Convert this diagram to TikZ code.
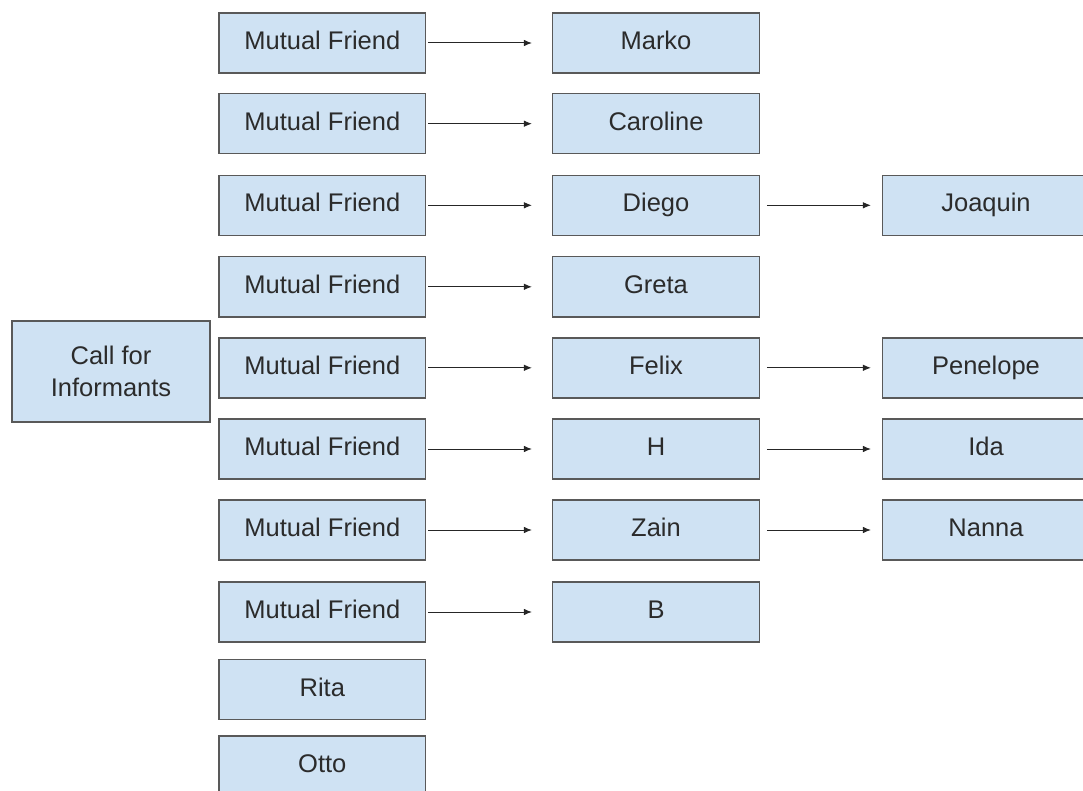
\documentclass[tikz,border=0pt]{standalone}
\usepackage{fontspec}
\setmainfont{Liberation Sans}
\usetikzlibrary{arrows.meta}
\definecolor{boxfill}{HTML}{CFE2F3}
\definecolor{boxline}{HTML}{595959}
\definecolor{txt}{HTML}{2B2B2B}
\tikzset{
  cardbase/.style={draw=boxline, fill=boxfill, line width=1.4pt, minimum width=206.7pt, minimum height=60pt,
    inner sep=0pt, text=txt, font=\fontsize{25.5}{32}\selectfont},
  card/.style={cardbase, text height=18.4pt, text depth=5.4pt},
  bigcard/.style={cardbase, align=center, minimum width=197.7pt, minimum height=101pt},
  link/.style={draw=black!85, line width=1pt, -{Latex[length=8pt,width=6.5pt]}},
  linkA/.style={link, shorten <=2pt, shorten >=20pt},
  linkB/.style={link, shorten <=6.7pt, shorten >=11pt}
}
\begin{document}
\begin{tikzpicture}[x=1pt, y=-1pt]
\useasboundingbox (0,0) rectangle (1083,791);
\begin{scope}
\clip (0,0) rectangle (1083,791);
\node[bigcard] (call) at (111,371.5) {Call for\\Informants};
% column 1
\node[card] (m1) at (322.3,43) {Mutual Friend};
\node[card] (m2) at (322.3,123.7) {Mutual Friend};
\node[card] (m3) at (322.3,205.3) {Mutual Friend};
\node[card] (m4) at (322.3,286.8) {Mutual Friend};
\node[card] (m5) at (322.3,367.8) {Mutual Friend};
\node[card] (m6) at (322.3,449) {Mutual Friend};
\node[card] (m7) at (322.3,530) {Mutual Friend};
\node[card] (m8) at (322.3,612) {Mutual Friend};
\node[card] (rita) at (322.3,689.5) {Rita};
\node[card] (otto) at (322.3,766) {Otto};
% column 2
\node[card] (marko) at (656,43) {Marko};
\node[card] (caroline) at (656,123.7) {Caroline};
\node[card] (diego) at (656,205.3) {Diego};
\node[card] (greta) at (656,286.8) {Greta};
\node[card] (felix) at (656,367.8) {Felix};
\node[card] (h) at (656,449) {H};
\node[card] (zain) at (656,530) {Zain};
\node[card] (b) at (656,612) {B};
% column 3
\node[card] (joaquin) at (986,205.3) {Joaquin};
\node[card] (penelope) at (986,367.8) {Penelope};
\node[card] (ida) at (986,449) {Ida};
\node[card] (nanna) at (986,530) {Nanna};
\end{scope}
% connectors
\draw[linkA] (m1) -- (marko);
\draw[linkA] (m2) -- (caroline);
\draw[linkA] (m3) -- (diego);
\draw[linkA] (m4) -- (greta);
\draw[linkA] (m5) -- (felix);
\draw[linkA] (m6) -- (h);
\draw[linkA] (m7) -- (zain);
\draw[linkA] (m8) -- (b);
\draw[linkB] (diego) -- (joaquin);
\draw[linkB] (felix) -- (penelope);
\draw[linkB] (h) -- (ida);
\draw[linkB] (zain) -- (nanna);
\end{tikzpicture}
\end{document}
